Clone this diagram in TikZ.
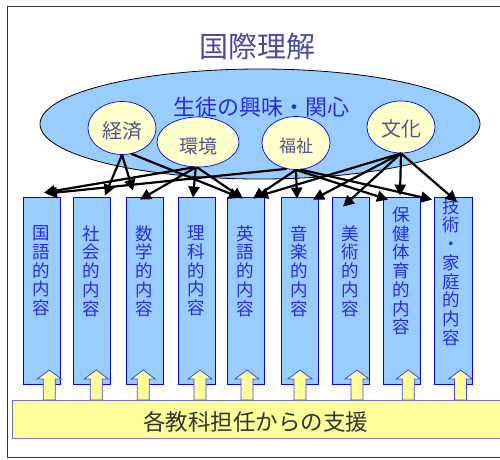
\documentclass[tikz,border=0pt]{standalone}
\usepackage{fontspec}
\setmainfont{Noto Sans CJK JP}
\usetikzlibrary{shapes.geometric,arrows.meta}
\definecolor{boxblue}{HTML}{99CCFF}
\definecolor{paleyellow}{HTML}{FFFFCC}
\definecolor{baryellow}{HTML}{FFFF99}
\definecolor{titlecol}{HTML}{4A4AA0}
\definecolor{smalltext}{HTML}{55558A}
\definecolor{bluetext}{HTML}{2A2AE6}
\definecolor{barborder}{HTML}{7070CC}
\definecolor{framecol}{HTML}{333333}
\begin{document}
\begin{tikzpicture}[x=1pt,y=-1pt,
  subjbox/.style={draw=blue, fill=boxblue, line width=0.8pt, minimum width=37pt, minimum height=187pt, inner sep=0pt},
  subjtext/.style={text=bluetext, align=center, font=\fontsize{17.5}{18.7}\selectfont, inner sep=0pt},
  topic/.style={ellipse, draw=blue, fill=paleyellow, line width=0.7pt, inner sep=0pt},
  topictext/.style={text=smalltext, inner sep=0pt},
  link/.style={line width=2.2pt, -{Triangle[length=11pt,width=11pt]}},
  supportarrow/.style={draw=blue!75!white, fill=baryellow, line width=0.8pt},
]
\useasboundingbox (0,0) rectangle (500,459);
\draw[line width=0.9pt, draw=framecol] (7,6) rectangle (520,457);

% title
\node[text=titlecol, font=\fontsize{29}{30}\selectfont, inner sep=0pt] (title) at (257,46) {国際理解};

% big ellipse
\node[ellipse, draw=black, fill=boxblue, line width=0.8pt, minimum width=440pt, minimum height=110pt, inner sep=0pt] (interest) at (260,124) {};
\node[text=bluetext, font=\fontsize{22}{24}\selectfont, inner sep=0pt] (interestlabel) at (261,107) {生徒の興味・関心};

% topics
\node[topic, minimum width=68pt, minimum height=53pt] (keizai) at (122,128) {};
\node[topictext, font=\fontsize{20}{22}\selectfont] (keizaiT) at (122,131) {経済};
\node[topic, minimum width=82pt, minimum height=50pt] (kankyo) at (198,142) {};
\node[topictext, font=\fontsize{19}{21}\selectfont] (kankyoT) at (198,146) {環境};
\node[topic, minimum width=68pt, minimum height=53pt] (fukushi) at (296,143) {};
\node[topictext, font=\fontsize{17}{19}\selectfont] (fukushiT) at (296,146.5) {福祉};
\node[topic, minimum width=68pt, minimum height=52pt] (bunka) at (401,127) {};
\node[topictext, font=\fontsize{20}{22}\selectfont] (bunkaT) at (401,129) {文化};

% subject boxes
\node[subjbox] (kokugo) at (41.5,290.5) {};
\node[subjbox] (shakai) at (91.5,290.5) {};
\node[subjbox] (sugaku) at (144.5,290.5) {};
\node[subjbox] (rika) at (196.5,290.5) {};
\node[subjbox] (eigo) at (245.5,290.5) {};
\node[subjbox] (ongaku) at (299.5,290.5) {};
\node[subjbox] (bijutsu) at (350.5,290.5) {};
\node[subjbox] (hoken) at (401.5,290.5) {};
\node[subjbox, minimum width=38pt] (gijutsu) at (453,290.5) {};

\node[subjtext] (kokugoT) at (41.5,271) {国\\語\\的\\内\\容};
\node[subjtext] (shakaiT) at (91.5,271) {社\\会\\的\\内\\容};
\node[subjtext] (sugakuT) at (144.5,271) {数\\学\\的\\内\\容};
\node[subjtext] (rikaT) at (196.5,271) {理\\科\\的\\内\\容};
\node[subjtext] (eigoT) at (245.5,271) {英\\語\\的\\内\\容};
\node[subjtext] (ongakuT) at (299.5,271) {音\\楽\\的\\内\\容};
\node[subjtext] (bijutsuT) at (350.5,271) {美\\術\\的\\内\\容};
\node[subjtext] (hokenT) at (401.5,271) {保\\健\\体\\育\\的\\内\\容};
\node[subjtext] (gijutsuT) at (451,272) {技\\術\\・\\家\\庭\\的\\内\\容};

% support arrows
\foreach \x in {49.3,96.3,143.3,200,247,300,357,408.3,460.5} {
  \filldraw[supportarrow] (\x-6,400) -- (\x-6,379) -- (\x-12,379) -- (\x,370) -- (\x+12,379) -- (\x+6,379) -- (\x+6,400) -- cycle;
}

% support bar
\node[draw=barborder, fill=baryellow, line width=0.8pt, minimum width=498pt, minimum height=38pt, inner sep=0pt] (bar) at (261,419) {};
\node[text=black!80, font=\fontsize{22.5}{24}\selectfont, inner sep=0pt] (barT) at (255.5,421.5) {各教科担任からの支援};

% links
\draw[link] (keizai.south) -- ([xshift=13.5pt,yshift=1pt]shakai.north);
\draw[link] (keizai.south) -- ([xshift=-11.5pt,yshift=6pt]sugaku.north);
\draw[link] (keizai.-70) -- ([xshift=-5.5pt,yshift=-1pt]eigo.north);

\draw[link] (kankyo.262) -- ([xshift=2.5pt,yshift=4pt]kokugo.north);
\draw[link] (kankyo.265) -- ([xshift=-4.5pt,yshift=-3pt]sugaku.north);
\draw[link] (kankyo.265) -- ([xshift=-3.5pt,yshift=-1pt]rika.north);
\draw[link] (kankyo.268) -- ([xshift=-2.5pt,yshift=-2pt]eigo.north);

\draw[link] (fukushi.250) -- ([xshift=4.5pt,yshift=3pt]kokugo.north);
\draw[link] (fukushi.south) -- ([xshift=7.5pt,yshift=-2pt]eigo.north);
\draw[link] (fukushi.south) -- ([xshift=-2.5pt,yshift=-2pt]ongaku.north);
\draw[link] (fukushi.south) -- ([xshift=-13.5pt,yshift=-3pt]hoken.north);
\draw[link] (fukushi.-80) -- ([xshift=-21pt,yshift=-3pt]gijutsu.north);

\draw[link] (bunka.south) -- ([xshift=11.5pt,yshift=0pt]eigo.north);
\draw[link] (bunka.south) -- ([xshift=13.5pt,yshift=-3pt]ongaku.north);
\draw[link] (bunka.south) -- ([xshift=-7.5pt,yshift=-10pt]bijutsu.north);
\draw[link] (bunka.south) -- ([xshift=-1.5pt,yshift=1pt]hoken.north);
\draw[link] (bunka.south) -- ([xshift=4pt,yshift=-5pt]gijutsu.north);
\end{tikzpicture}
\end{document}
